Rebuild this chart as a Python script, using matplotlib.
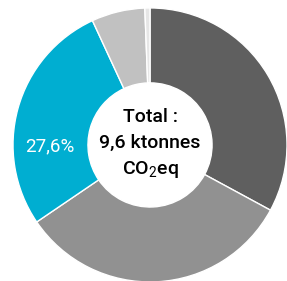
import matplotlib
matplotlib.use("Agg")
import matplotlib.pyplot as plt

# share of emissions, clockwise from the top
values = [32.9, 32.6, 27.6, 6.3, 0.6]
colors = ["#5f5f5f", "#919191", "#00aed1", "#c1c1c1", "#e6e6e6"]
pct_label = "27,6%"
center_lines = ["Total :", "9,6 ktonnes", r"CO$_\mathrm{2}$eq"]

plt.rcParams["font.family"] = ["Roboto", "DejaVu Sans"]
plt.rcParams["mathtext.fontset"] = "custom"
plt.rcParams["mathtext.rm"] = "Roboto"

fig = plt.figure(figsize=(2.87, 2.81), dpi=100)
ax = fig.add_axes([0, 0, 1, 1])

ax.pie(values, colors=colors, startangle=90, counterclock=False, radius=1,
       wedgeprops=dict(width=0.547, edgecolor="white", linewidth=1))

# label of the blue slice, sits to the left of the hole
ax.text(-0.73, -0.01, pct_label, color="white", fontsize=13.5, ha="center", va="center")

for y, s in zip([0.205, 0.015, -0.18], center_lines):
    ax.text(0, y, s, ha="center", va="center", fontsize=14, weight="medium")

ax.set_aspect("auto")
ax.set_xlim(-1.095, 1.0)
ax.set_ylim(-0.993, 1.058)
ax.axis("off")

fig.savefig("out.png", dpi=100)
